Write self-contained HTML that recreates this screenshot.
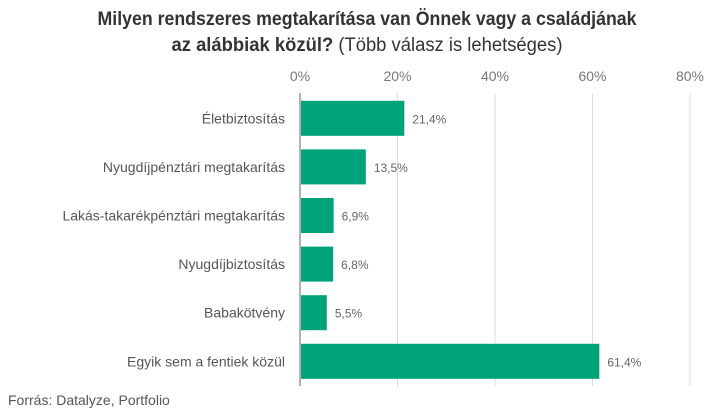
<!DOCTYPE html>
<html><head><meta charset="utf-8"><style>
body{margin:0;background:#fff;}
svg{display:block;font-family:"Liberation Sans",sans-serif;}
</style></head><body>
<svg id="chart" width="723" height="412" viewBox="0 0 723 412">
<text x="367" y="25" text-anchor="middle" font-size="19" font-weight="bold" fill="#333" textLength="539" lengthAdjust="spacingAndGlyphs">Milyen rendszeres megtakarítása van Önnek vagy a családjának</text>
<text x="367" y="51" text-anchor="middle" font-size="19" fill="#333" textLength="391" lengthAdjust="spacingAndGlyphs"><tspan font-weight="bold">az alábbiak közül?</tspan> (Több válasz is lehetséges)</text>
<g id="grid"></g><g id="bars"></g>
<text x="8" y="405" font-size="14" fill="#555">Forrás: Datalyze, Portfolio</text>
</svg>
<script>
const categories=["Életbiztosítás","Nyugdíjpénztári megtakarítás","Lakás-takarékpénztári megtakarítás","Nyugdíjbiztosítás","Babakötvény","Egyik sem a fentiek közül"];
const values=[21.4,13.5,6.9,6.8,5.5,61.4];
const ticks=[0,20,40,60,80];
const tickLabels=["0%","20%","40%","60%","80%"];
const NS="http://www.w3.org/2000/svg";
const x0=300,x1=690,vmax=80,top0=94,band=48.6,bh=35;
const xs=v=>x0+(x1-x0)*v/vmax;
const yc=i=>top0+band*(i+0.5);
function mk(tag,attrs,parent,txt){const e=document.createElementNS(NS,tag);for(const k in attrs)e.setAttribute(k,attrs[k]);if(txt!==undefined)e.textContent=txt;parent.appendChild(e);return e;}
const g=document.getElementById('grid'),b=document.getElementById('bars');
ticks.forEach((t,i)=>{
 const l=mk('line',{x1:xs(t),x2:xs(t),y1:93,y2:386,stroke:t===0?'#666':'#ddd','stroke-width':1},g);
 
 
 const tx=mk('text',{x:xs(t),y:81,'text-anchor':'middle','font-size':14,fill:'#777'},g,tickLabels[i]);
 
 
});
categories.forEach((c,i)=>{
 const y=yc(i);
 const lab=mk('text',{x:285,y:y+5,'text-anchor':'end','font-size':14,fill:'#555'},b,c);
 
 
 const r=mk('rect',{x:xs(0)+1,y:y-bh/2,width:xs(values[i])-xs(0)-1,height:bh,fill:'#00a27a'},b);
 
 
 const v=mk('text',{x:xs(values[i])+8,y:y+5,'font-size':12,fill:'#666'},b,values[i].toFixed(1).replace('.',',')+'%');
 
 
});
</script>
</body></html>
